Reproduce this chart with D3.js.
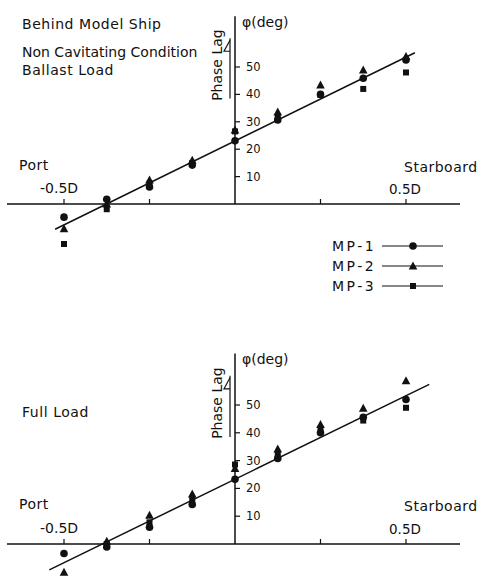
<!DOCTYPE html>
<html><head><meta charset="utf-8">
<script src="https://cdn.jsdelivr.net/npm/d3@7"></script>
<style>body{margin:0;background:#fff}svg{display:block}text{font-family:"DejaVu Sans",sans-serif;fill:#111}</style>
</head><body><svg id="c" width="480" height="578"></svg>
<script>
const xPositions = [-0.5, -0.375, -0.25, -0.125, 0, 0.125, 0.25, 0.375, 0.5];
const ballastMP1 = [-4.8, 1.7, 6.2, 14.2, 23.1, 30.7, 40.0, 45.9, 52.6];
const ballastMP2 = [-9.0, 0.0, 8.8, 16.0, 27.0, 33.6, 43.4, 48.9, 53.8];
const ballastMP3 = [-14.6, -1.9, 7.5, 15.0, 26.5, 32.0, 39.8, 42.0, 48.0];
const fullMP1 = [-3.4, -1.1, 6.0, 14.2, 23.3, 30.8, 40.0, 45.6, 52.0];
const fullMP2 = [-10.2, 1.0, 10.3, 18.0, 27.2, 34.2, 43.0, 48.8, 58.7];
const fullMP3 = [null, 0.0, 7.8, 15.9, 28.6, 32.0, 41.5, 44.4, 49.0];
const ballastFitX = [-0.526, 0.526], ballastFitY = [-9.2, 55.2];
const fullFitX = [-0.543, 0.568], fullFitY = [-9.3, 57.4];
const yTicks = [10, 20, 30, 40, 50];
const xTicks = [-0.5, -0.25, 0.25, 0.5];
const seriesNames = ["MP-1", "MP-2", "MP-3"];
const seriesShapes = ["circle", "triangle", "square"];

const svg = d3.select("#c");
const x = d3.scaleLinear().domain([-0.5, 0.5]).range([64, 406]);

function marker(g, shape, cx, cy) {
  if (shape === "circle") g.append("circle").attr("cx", cx).attr("cy", cy).attr("r", 3.8).attr("fill", "#111");
  else if (shape === "triangle") g.append("path").attr("d", `M${cx},${cy-4.5}L${cx+4.3},${cy+3.5}L${cx-4.3},${cy+3.5}Z`).attr("fill", "#111");
  else g.append("rect").attr("x", cx-3).attr("y", cy-3).attr("width", 6).attr("height", 6).attr("fill", "#111");
}

function panel(y0, y50, series, fitX, fitY, labels) {
  const y = d3.scaleLinear().domain([0, 50]).range([y0, y50]);
  const g = svg.append("g");
  const ax = x(0);
  g.append("line").attr("x1", 7).attr("x2", 460).attr("y1", y(0)).attr("y2", y(0)).attr("stroke", "#111").attr("stroke-width", 1.5);
  xTicks.forEach(t => g.append("line").attr("x1", x(t)).attr("x2", x(t)).attr("y1", y(0)).attr("y2", y(0)-5).attr("stroke", "#111").attr("stroke-width", 1.2));
  g.append("line").attr("x1", ax).attr("x2", ax).attr("y1", y(0)).attr("y2", y(68.5)).attr("stroke", "#111").attr("stroke-width", 1.5);
  yTicks.forEach(t => {
    g.append("line").attr("x1", ax).attr("x2", ax+5).attr("y1", y(t)).attr("y2", y(t)).attr("stroke", "#111").attr("stroke-width", 1.2);
    g.append("text").attr("x", ax+11).attr("y", y(t)+4).attr("font-size", 11.5).text(t);
  });
  g.append("text").attr("x", ax+7).attr("y", y(64.6)).attr("font-size", 14).text("φ(deg)");
  const pm = y(50.7);
  g.append("text").attr("transform", `translate(222,${pm}) rotate(-90)`).attr("text-anchor", "middle").attr("font-size", 14).text("Phase Lag");
  const sx = ax - 5, sTop = y(60.5), sBot = y(38.5);
  g.append("line").attr("x1", sx).attr("x2", sx).attr("y1", sTop).attr("y2", sBot).attr("stroke", "#111").attr("stroke-width", 1.2);
  g.append("path").attr("d", `M${sx},${sTop+2}L${sx-6},${sTop+13}L${sx},${sTop+13}`).attr("fill", "none").attr("stroke", "#111").attr("stroke-width", 1.2);
  g.append("text").attr("x", 19).attr("y", y(12.5)).attr("font-size", 14).attr("letter-spacing", 0.5).text("Port");
  g.append("text").attr("x", 40).attr("y", y(4)).attr("font-size", 14).text("-0.5D");
  g.append("text").attr("x", 404).attr("y", y(11.8)).attr("font-size", 14).attr("letter-spacing", 0.5).text("Starboard");
  g.append("text").attr("x", 389).attr("y", y(3.7)).attr("font-size", 13.5).text("0.5D");
  labels.forEach(l => g.append("text").attr("x", 22).attr("y", l[1]).attr("font-size", 14).attr("letter-spacing", l[2]).text(l[0]));
  const line = d3.line().x(d => x(d[0])).y(d => y(d[1]));
  g.append("path").attr("d", line(fitX.map((v, i) => [v, fitY[i]]))).attr("stroke", "#111").attr("stroke-width", 1.5).attr("fill", "none");
  [2, 1, 0].forEach(si => {
    series[si].forEach((v, i) => { if (v !== null) marker(g, seriesShapes[si], x(xPositions[i]), y(v)); });
  });
}

panel(204, 67, [ballastMP1, ballastMP2, ballastMP3], ballastFitX, ballastFitY,
  [["Behind Model Ship", 29, 0.55], ["Non Cavitating Condition", 57, 0], ["Ballast Load", 75, 0.55]]);
panel(544, 405, [fullMP1, fullMP2, fullMP3], fullFitX, fullFitY, [["Full Load", 417, 0.55]]);

const lg = svg.append("g");
seriesNames.forEach((n, i) => {
  const cy = 246 + i * 20;
  lg.append("text").attr("x", 332).attr("y", cy + 5).attr("font-size", 14).attr("letter-spacing", 2.5).text(n);
  lg.append("line").attr("x1", 382).attr("x2", 443).attr("y1", cy).attr("y2", cy).attr("stroke", "#111").attr("stroke-width", 1.2);
  marker(lg, seriesShapes[i], 413, cy);
});
</script></body></html>
